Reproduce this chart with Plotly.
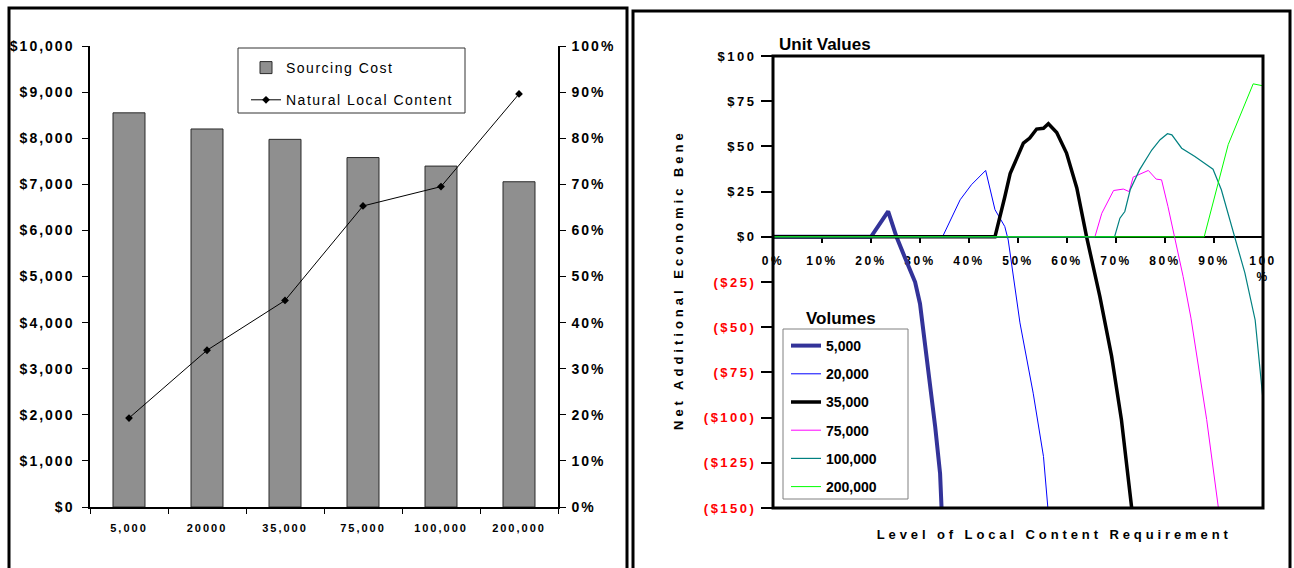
import plotly.graph_objects as go

W, H = 1294, 568

# ---- left panel data ----
volumes = ["5,000", "20000", "35,000", "75,000", "100,000", "200,000"]
sourcing_cost = [8550, 8200, 7975, 7580, 7395, 7055]
local_content = [0.193, 0.340, 0.448, 0.653, 0.695, 0.896]
cost_ticks = list(range(0, 10001, 1000))
cost_labels = ["$0", "$1,000", "$2,000", "$3,000", "$4,000", "$5,000",
               "$6,000", "$7,000", "$8,000", "$9,000", "$10,000"]

# ---- right panel data (level of local content %, net benefit $) ----
req_5k = [0, 20, 23.5, 25.2, 27, 29, 30, 31, 32, 33.1, 34.1, 34.4]
net_5k = [0, 0, 14, 0, -12, -25, -37, -58, -79, -105, -131, -150]

req_20k = [0, 34.6, 38.2, 40.5, 43.4, 45.3, 47.3, 48, 50.4, 53.1, 55.2, 56.1]
net_20k = [0, 0, 20.5, 28.8, 36.7, 15, 5.7, -1.7, -47.6, -86.5, -121.5, -150]

req_35k = [0, 45.3, 47.3, 48.4, 51.1, 52.4, 53.8, 55.2, 56.2, 57.9, 59.9, 62, 64,
           66.7, 69.1, 71.1, 73.2]
net_35k = [0, 0, 22, 35, 51.8, 54.6, 59.6, 60, 62.5, 57.7, 46.3, 27, 0,
           -33, -66, -101, -150]

req_75k = [0, 65.7, 67.1, 69.5, 71.5, 72.7, 73.5, 76.6, 78.2, 79.3, 80.6, 82,
           83.7, 85.3, 88.5, 90.9]
net_75k = [0, 0, 13, 25.6, 26.4, 25, 33, 36.7, 31.9, 31.5, 16.8, 0,
           -22, -45, -101, -150]

req_100k = [0, 69.7, 70.8, 71.8, 72.9, 74.8, 77.3, 79, 80.5, 81.4, 83.4, 86.1,
            88.5, 89.8, 91.5, 94.3, 96.3, 98.4, 100]
net_100k = [0, 0, 10.3, 14, 26, 37, 48, 53.7, 57, 56.4, 49, 44.4,
            39.8, 37.4, 26, 0, -20, -46, -90]

req_200k = [0, 88, 92.9, 98, 100]
net_200k = [0, 0, 51, 84.6, 83.5]

level_ticks = list(range(0, 101, 10))
level_labels = ["0%", "10%", "20%", "30%", "40%", "50%", "60%", "70%", "80%",
                "90%", "100<br>%"]
value_ticks = [100, 75, 50, 25, 0, -25, -50, -75, -100, -125, -150]
value_labels = ["$100", "$75", "$50", "$25", "$0", "($25)", "($50)", "($75)",
                "($100)", "($125)", "($150)"]

FONT = "Arial, Liberation Sans, sans-serif"


def px(x):
    return x / W


def py(y):
    return 1 - y / H


def red_if_negative(labels, ticks):
    return [f'<span style="color:#ff0000">{t}</span>' if v < 0 else t
            for t, v in zip(labels, ticks)]


fig = go.Figure()

fig.add_bar(x=volumes, y=sourcing_cost, name="Sourcing Cost", width=0.41,
            marker=dict(color="#8f8f8f", line=dict(color="#2a2a2a", width=1)),
            legend="legend", legendgroup="cost")
fig.add_scatter(x=volumes, y=local_content, yaxis="y3", mode="lines+markers",
                name="Natural Local Content",
                line=dict(color="black", width=1),
                marker=dict(symbol="diamond", size=6, color="black"),
                legend="legend", legendgroup="content")

series = [
    ("5,000", req_5k, net_5k, "#333399", 4),
    ("20,000", req_20k, net_20k, "#0000ff", 1),
    ("35,000", req_35k, net_35k, "#000000", 3.5),
    ("75,000", req_75k, net_75k, "#ff00ff", 1),
    ("100,000", req_100k, net_100k, "#008080", 1.2),
    ("200,000", req_200k, net_200k, "#00ff00", 1),
]
for name, xs, ys, color, width in series:
    fig.add_scatter(x=xs, y=ys, xaxis="x2", yaxis="y2", mode="lines", name=name,
                    line=dict(color=color, width=width),
                    legend="legend2", legendgroup=name)

bold13 = dict(family=FONT, size=13, color="black", weight="bold")
bold14 = dict(family=FONT, size=14, color="black", weight="bold")

fig.update_layout(
    template="none",
    width=W, height=H,
    margin=dict(l=0, r=0, t=0, b=0, autoexpand=False),
    paper_bgcolor="white", plot_bgcolor="white",
    font=dict(family=FONT, color="black"),
    showlegend=True,
    xaxis=dict(domain=[px(90), px(558)], anchor="y", type="category",
               automargin=False,
               showline=True, linecolor="black", linewidth=1.5,
               ticks="outside", tickson="boundaries", ticklen=5, tickcolor="black",
               ticklabelstandoff=10, showgrid=False,
               tickfont=dict(family=FONT, size=11, weight="bold")),
    yaxis=dict(domain=[py(507), py(46)], anchor="x", range=[0, 10000],
               automargin=False,
               tickvals=cost_ticks, ticktext=cost_labels,
               showline=True, linecolor="black", linewidth=1.5,
               ticks="outside", ticklen=6, tickcolor="black",
               ticklabelstandoff=5, showgrid=False, zeroline=False,
               tickfont=bold14),
    yaxis3=dict(overlaying="y", anchor="x", side="right", range=[0, 1],
                automargin=False,
                tickvals=[i / 10 for i in range(11)], tickformat=".0%",
                showline=True, linecolor="black", linewidth=1.5,
                ticks="outside", ticklen=6, tickcolor="black",
                ticklabelstandoff=3, showgrid=False, zeroline=False,
                tickfont=bold14),
    xaxis2=dict(domain=[px(773), px(1263)], anchor="free", position=py(237),
                automargin=False,
                range=[0, 100], tickvals=level_ticks, ticktext=level_labels,
                showline=True, linecolor="black", linewidth=2, layer="below traces",
                ticks="outside", ticklen=5, tickwidth=2, tickcolor="black",
                ticklabelstandoff=8, showgrid=False, zeroline=False,
                tickfont=dict(family=FONT, size=12, weight="bold")),
    yaxis2=dict(domain=[py(508), py(56)], anchor="x2", range=[-150, 100],
                automargin=False,
                tickvals=value_ticks,
                ticktext=red_if_negative(value_labels, value_ticks),
                showline=False, ticks="outside", ticklen=11, tickwidth=2,
                tickcolor="black", ticklabelstandoff=2,
                showgrid=False, zeroline=False, tickfont=bold13),
    legend=dict(x=px(246), y=py(52), xanchor="left", yanchor="top",
                bgcolor="rgba(0,0,0,0)", borderwidth=0,
                traceorder="grouped", tracegroupgap=11,
                font=dict(family=FONT, size=14, color="black")),
    legend2=dict(x=px(786), y=py(330), xanchor="left", yanchor="top",
                 bgcolor="rgba(0,0,0,0)", borderwidth=0,
                 traceorder="grouped", tracegroupgap=7,
                 font=bold14),
)

border = dict(color="black", width=3)
fig.add_shape(type="rect", xref="paper", yref="paper",
              x0=px(9), x1=px(627), y0=-0.05, y1=py(8), line=border)
fig.add_shape(type="rect", xref="paper", yref="paper",
              x0=px(633), x1=px(1290), y0=-0.05, y1=py(11), line=border)
fig.add_shape(type="rect", xref="x2 domain", yref="y2 domain",
              x0=0, x1=1, y0=0, y1=1, line=dict(color="black", width=3))
# legend frames
fig.add_shape(type="rect", xref="paper", yref="paper",
              x0=px(238), x1=px(465), y0=py(113), y1=py(48),
              fillcolor="white", line=dict(color="#333333", width=1))
fig.add_shape(type="rect", xref="paper", yref="paper",
              x0=px(783), x1=px(908), y0=py(499), y1=py(329),
              line=dict(color="#808080", width=1))

fig.add_annotation(text="Unit Values", xref="paper", yref="paper",
                   x=px(777), y=py(44), xanchor="left", yanchor="middle",
                   showarrow=False, font=dict(family=FONT, size=17, weight="bold"))
fig.add_annotation(text="Volumes", xref="paper", yref="paper",
                   x=px(841), y=py(318), xanchor="center", yanchor="middle",
                   showarrow=False, font=dict(family=FONT, size=17, weight="bold"))
fig.add_annotation(text="Net Additional Economic Bene", xref="paper", yref="paper",
                   x=px(678), y=py(280), textangle=-90,
                   xanchor="center", yanchor="middle", showarrow=False, font=bold13)
fig.add_annotation(text="Level of Local Content Requirement", xref="paper",
                   yref="paper", x=px(1054), y=py(534),
                   xanchor="center", yanchor="middle", showarrow=False, font=bold13)

# the original uses widely letter-spaced labels; plotly has no option for it
SPACING_JS = """
document.body.style.margin = '0';
var gd = document.querySelector('.plotly-graph-div');
function spaced(selector, amount) {
    gd.querySelectorAll(selector).forEach(function (t) { t.style.letterSpacing = amount; });
}
spaced('.xtick text', '2px');
spaced('.ytick text, .y3tick text', '2px');
spaced('.x2tick text, .y2tick text', '2.5px');
gd.querySelectorAll('text.legendtext').forEach(function (t) {
    t.style.letterSpacing = /[0-9]/.test(t.textContent) ? '3px' : '1.5px';
});
// legend frames are drawn as shapes, so let the wider text run past the clip
gd.querySelectorAll('.scrollbox').forEach(function (g) { g.removeAttribute('clip-path'); });
gd.querySelectorAll('.annotation-text').forEach(function (t) {
    var s = t.textContent;
    if (s.indexOf('Net') === 0) { t.style.letterSpacing = '4px'; }
    if (s.indexOf('Level') === 0) { t.style.letterSpacing = '3.9px'; }
});
"""

fig.write_html("out.html", post_script=SPACING_JS,
               config={"displayModeBar": False})
